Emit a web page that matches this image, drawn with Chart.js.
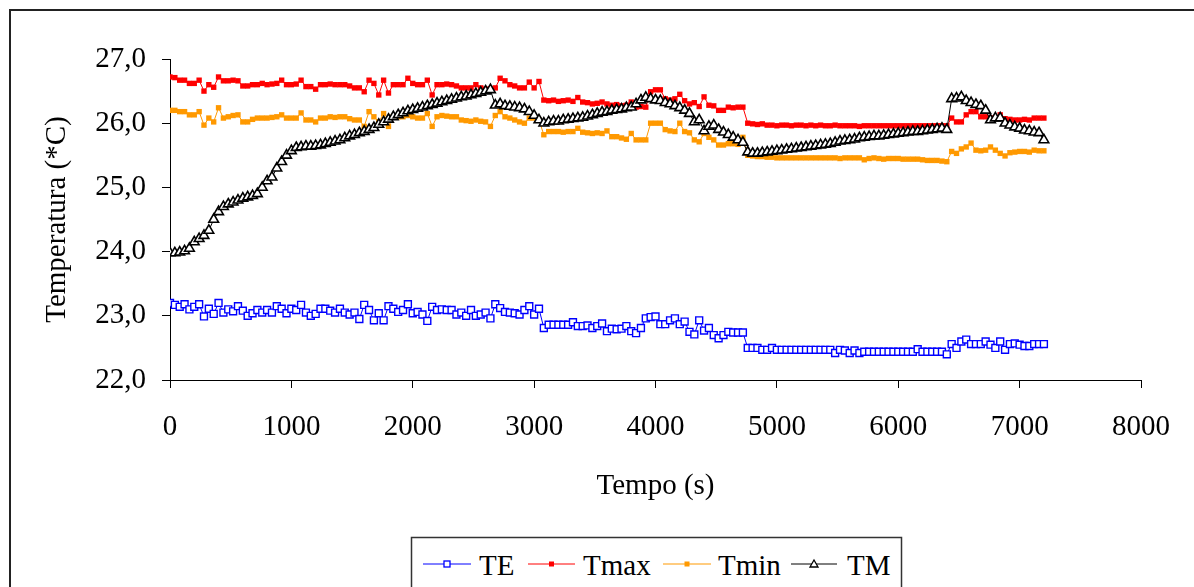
<!DOCTYPE html>
<html>
<head>
<meta charset="utf-8">
<script src="https://cdn.jsdelivr.net/npm/chart.js@4/dist/chart.umd.min.js"></script>
<style>
html,body{margin:0;padding:0;background:#fff;overflow:hidden;}
#wrap{position:relative;width:1194px;height:587px;overflow:hidden;}
#frame{position:absolute;left:9px;top:9px;width:1300px;height:700px;border-left:2px solid #222;border-top:2px solid #222;}
#c{position:absolute;left:0;top:0;}
#legend{position:absolute;left:0;top:0;}
</style>
</head>
<body>
<div id="wrap">
  <div id="frame"></div>
  <canvas id="c" width="1194" height="587"></canvas>
  <svg id="legend" width="1194" height="587" xmlns="http://www.w3.org/2000/svg"></svg>
</div>
<script>
// ---- axis ticks ----
const xTicks = [0, 1000, 2000, 3000, 4000, 5000, 6000, 7000, 8000];
const yTicks = [22, 23, 24, 25, 26, 27];
const yTickLabels = ['22,0', '23,0', '24,0', '25,0', '26,0', '27,0'];
const seriesNames = ['TE', 'Tmax', 'Tmin', 'TM'];
const sampleStep = 40; // seconds between readings (t = 0 .. 7200 s)

// ---- series values (one reading every 40 s, rows of 400 s) ----
const TE = [
  23.2,23.17,23.14,23.18,23.1,23.14,23.18,22.99,23.11,23.03,
  23.2,23.05,23.1,23.07,23.15,23.08,23.0,23.04,23.09,23.05,
  23.09,23.05,23.15,23.11,23.04,23.11,23.09,23.17,23.05,23.0,
  23.03,23.11,23.11,23.08,23.05,23.11,23.05,23.02,23.05,22.95,
  23.17,23.09,22.93,23.04,22.93,23.15,23.11,23.06,23.09,23.18,
  23.04,23.06,23.02,22.92,23.14,23.09,23.1,23.09,23.09,23.02,
  23.05,23.0,23.09,23.0,23.02,23.05,22.96,23.18,23.12,23.06,
  23.05,23.04,23.02,23.09,23.15,23.02,23.11,22.81,22.86,22.86,
  22.86,22.86,22.86,22.9,22.84,22.84,22.85,22.81,22.84,22.88,
  22.76,22.8,22.79,22.8,22.84,22.76,22.73,22.81,22.96,22.98,
  22.99,22.87,22.87,22.93,22.96,22.87,22.91,22.75,22.71,22.93,
  22.77,22.81,22.7,22.65,22.7,22.75,22.74,22.74,22.74,22.5,
  22.5,22.5,22.47,22.47,22.5,22.47,22.47,22.47,22.47,22.47,
  22.47,22.47,22.47,22.47,22.47,22.47,22.47,22.42,22.47,22.46,
  22.42,22.46,22.42,22.44,22.44,22.44,22.44,22.44,22.44,22.44,
  22.44,22.44,22.44,22.44,22.48,22.44,22.44,22.44,22.44,22.44,
  22.4,22.56,22.5,22.6,22.63,22.56,22.56,22.56,22.6,22.55,
  22.5,22.6,22.47,22.56,22.57,22.55,22.53,22.53,22.56,22.56,
  22.56
];
const Tmax = [
  26.72,26.71,26.67,26.67,26.62,26.62,26.67,26.5,26.6,26.56,
  26.72,26.66,26.66,26.67,26.66,26.58,26.58,26.6,26.6,26.62,
  26.6,26.61,26.62,26.67,26.6,26.6,26.61,26.67,26.57,26.57,
  26.53,26.6,26.6,26.61,26.6,26.6,26.6,26.58,26.55,26.55,
  26.49,26.67,26.62,26.44,26.67,26.47,26.6,26.6,26.6,26.7,
  26.62,26.6,26.6,26.67,26.44,26.6,26.6,26.61,26.6,26.58,
  26.55,26.55,26.55,26.6,26.55,26.53,26.53,26.55,26.7,26.66,
  26.6,26.58,26.55,26.55,26.64,26.55,26.65,26.36,26.35,26.36,
  26.34,26.35,26.36,26.34,26.4,26.33,26.32,26.3,26.31,26.33,
  26.3,26.28,26.29,26.27,26.28,26.33,26.25,26.26,26.25,26.49,
  26.52,26.52,26.38,26.36,26.38,26.45,26.35,26.3,26.32,26.26,
  26.41,26.28,26.27,26.2,26.2,26.25,26.24,26.25,26.25,26.0,
  25.99,25.98,25.99,25.97,25.97,25.96,25.97,25.97,25.96,25.97,
  25.97,25.96,25.97,25.96,25.97,25.96,25.96,25.97,25.96,25.96,
  25.96,25.96,25.95,25.96,25.96,25.96,25.96,25.96,25.96,25.96,
  25.96,25.96,25.96,25.96,25.96,25.96,25.96,25.96,25.96,25.96,
  25.96,26.08,26.02,26.02,26.13,26.18,26.18,26.1,26.1,26.08,
  26.08,26.13,26.07,26.06,26.05,26.05,26.06,26.05,26.08,26.08,
  26.08
];
const Tmin = [
  26.2,26.2,26.18,26.18,26.13,26.13,26.18,25.97,26.08,26.02,
  26.24,26.08,26.1,26.12,26.13,26.02,26.02,26.06,26.08,26.08,
  26.08,26.09,26.1,26.13,26.08,26.08,26.08,26.16,26.05,26.05,
  26.02,26.08,26.08,26.1,26.09,26.1,26.1,26.07,26.05,26.05,
  25.95,26.18,26.1,26.02,26.15,25.95,26.1,26.1,26.1,26.12,
  26.1,26.08,26.08,26.15,25.95,26.1,26.12,26.11,26.1,26.1,
  26.05,26.04,26.03,26.05,26.03,26.02,25.95,26.12,26.18,26.1,
  26.08,26.05,26.02,26.0,26.08,26.08,26.05,25.82,25.87,25.87,
  25.87,25.86,25.87,25.87,25.92,25.86,25.85,25.84,25.85,25.84,
  25.88,25.79,25.79,25.77,25.75,25.84,25.74,25.74,25.74,26.0,
  26.0,26.0,25.9,25.88,25.87,26.0,25.87,25.85,25.74,25.71,
  25.84,25.78,25.74,25.66,25.66,25.68,25.68,25.67,25.78,25.5,
  25.49,25.48,25.48,25.47,25.47,25.46,25.46,25.46,25.46,25.46,
  25.46,25.46,25.46,25.46,25.46,25.46,25.46,25.46,25.45,25.46,
  25.46,25.46,25.46,25.43,25.45,25.46,25.45,25.44,25.45,25.45,
  25.45,25.44,25.44,25.44,25.44,25.43,25.42,25.42,25.42,25.41,
  25.4,25.56,25.53,25.6,25.63,25.69,25.58,25.57,25.58,25.63,
  25.58,25.53,25.49,25.54,25.55,25.56,25.56,25.55,25.58,25.57,
  25.57
];
const TM = [
  23.98,23.98,23.99,24.01,24.05,24.15,24.2,24.25,24.33,24.5,
  24.62,24.7,24.74,24.77,24.8,24.83,24.85,24.87,24.9,25.0,
  25.1,25.16,25.3,25.4,25.5,25.57,25.62,25.63,25.64,25.64,
  25.65,25.66,25.68,25.7,25.72,25.74,25.77,25.8,25.82,25.85,
  25.87,25.9,25.93,25.98,26.02,26.06,26.1,26.13,26.16,26.19,
  26.21,26.23,26.25,26.27,26.29,26.31,26.33,26.35,26.37,26.39,
  26.41,26.42,26.44,26.46,26.48,26.5,26.52,26.28,26.3,26.27,
  26.26,26.25,26.24,26.22,26.18,26.12,26.05,26.0,26.02,26.03,
  26.03,26.05,26.06,26.07,26.08,26.09,26.11,26.13,26.15,26.17,
  26.18,26.2,26.21,26.22,26.24,26.25,26.3,26.36,26.4,26.38,
  26.36,26.35,26.32,26.3,26.27,26.24,26.2,26.15,26.02,26.05,
  25.88,25.95,25.97,25.9,25.86,25.82,25.78,25.74,25.7,25.55,
  25.53,25.53,25.54,25.55,25.56,25.57,25.58,25.59,25.6,25.61,
  25.62,25.63,25.64,25.65,25.66,25.67,25.68,25.7,25.72,25.73,
  25.74,25.75,25.77,25.78,25.79,25.8,25.8,25.81,25.82,25.83,
  25.84,25.85,25.86,25.87,25.87,25.88,25.89,25.9,25.91,25.92,
  25.9,26.38,26.39,26.41,26.35,26.32,26.29,26.27,26.2,26.05,
  26.08,26.08,26.0,25.97,25.94,25.92,25.89,25.88,25.86,25.85,
  25.74
];

[TE, Tmax, Tmin, TM].forEach((a, k) => {
  if (a.length !== 181) throw new Error(seriesNames[k] + ' has ' + a.length + ' values');
});

const pts = arr => arr.map((v, i) => ({ x: i * sampleStep, y: v }));

const FONT = 'Liberation Serif, Times New Roman, serif';
const FS = 29;
const font = { family: FONT, size: FS };

const chart = new Chart(document.getElementById('c'), {
  type: 'line',
  data: {
    datasets: [
      { label: seriesNames[3], data: pts(TM), borderColor: '#000', borderWidth: 1,
        pointStyle: 'triangle', pointRadius: 5.6, pointBackgroundColor: '#fff',
        pointBorderColor: '#000', pointBorderWidth: 1.6, order: 0 },
      { label: seriesNames[0], data: pts(TE), borderColor: '#0000ff', borderWidth: 1,
        pointStyle: 'rect', pointRadius: 4.9, pointBackgroundColor: '#fff',
        pointBorderColor: '#0000ff', pointBorderWidth: 1.4, order: 1 },
      { label: seriesNames[2], data: pts(Tmin), borderColor: '#ff9900', borderWidth: 1,
        pointStyle: 'rect', pointRadius: 3.8, pointBackgroundColor: '#ff9900',
        pointBorderColor: '#ff9900', pointBorderWidth: 0, order: 2 },
      { label: seriesNames[1], data: pts(Tmax), borderColor: '#ff0000', borderWidth: 1,
        pointStyle: 'rect', pointRadius: 3.8, pointBackgroundColor: '#ff0000',
        pointBorderColor: '#ff0000', pointBorderWidth: 0, order: 3 }
    ]
  },
  options: {
    responsive: false,
    animation: false,
    events: [],
    layout: { padding: { left: 0, right: 53, top: 59, bottom: 83 } },
    plugins: { legend: { display: false }, tooltip: { enabled: false } },
    elements: { line: { tension: 0 } },
    scales: {
      x: {
        type: 'linear', min: xTicks[0], max: xTicks[xTicks.length - 1],
        afterBuildTicks: s => { s.ticks = xTicks.map(v => ({ value: v })); },
        afterFit: s => { s.height = 124; },
        ticks: { font: font, color: '#000', padding: 22, maxRotation: 0, autoSkip: false,
                 callback: v => String(v) },
        grid: { drawOnChartArea: false, drawTicks: true, tickLength: 8, color: '#000', lineWidth: 1 },
        border: { display: true, color: '#000', width: 1 },
        title: { display: true, text: 'Tempo (s)', font: font, color: '#000', padding: { top: 0, bottom: 0 } }
      },
      y: {
        min: yTicks[0], max: yTicks[yTicks.length - 1],
        afterBuildTicks: s => { s.ticks = yTicks.map(v => ({ value: v })); },
        afterFit: s => { s.width = 170; },
        ticks: { font: font, color: '#000', padding: 16, autoSkip: false,
                 callback: v => yTickLabels[yTicks.indexOf(v)] },
        grid: { drawOnChartArea: false, drawTicks: true, tickLength: 8, color: '#000', lineWidth: 1 },
        border: { display: true, color: '#000', width: 1 },
        title: { display: true, text: 'Temperatura (*C)', font: font, color: '#000', padding: { top: 39.6, bottom: 0 } }
      }
    }
  }
});

// ---- legend (SVG, real text) ----
const svg = document.getElementById('legend');
const NS = 'http://www.w3.org/2000/svg';
function el(tag, attrs, text) {
  const e = document.createElementNS(NS, tag);
  for (const k in attrs) e.setAttribute(k, attrs[k]);
  if (text) e.textContent = text;
  svg.appendChild(e);
  return e;
}
el('rect', { x: 411.5, y: 537.5, width: 490, height: 80, fill: '#fff', stroke: '#333', 'stroke-width': 1.5 });
const legendItems = [
  { name: seriesNames[0], color: '#0000ff', marker: 'hsq', x0: 423, x1: 471, tx: 479 },
  { name: seriesNames[1], color: '#ff0000', marker: 'fsq', x0: 528, x1: 575, tx: 583 },
  { name: seriesNames[2], color: '#ff9900', marker: 'fsq', x0: 663, x1: 711, tx: 718 },
  { name: seriesNames[3], color: '#000000', marker: 'tri', x0: 791, x1: 837, tx: 847 }
];
const ly = 564;
legendItems.forEach(it => {
  el('line', { x1: it.x0, y1: ly, x2: it.x1, y2: ly, stroke: it.color, 'stroke-width': 1 });
  const cx = (it.x0 + it.x1) / 2;
  if (it.marker === 'hsq') el('rect', { x: cx - 3, y: ly - 3, width: 6, height: 6, fill: '#fff', stroke: it.color, 'stroke-width': 1.3 });
  if (it.marker === 'fsq') el('rect', { x: cx - 2.5, y: ly - 2.5, width: 5, height: 5, fill: it.color });
  if (it.marker === 'tri') el('polygon', { points: (cx) + ',' + (ly - 4) + ' ' + (cx + 4) + ',' + (ly + 3) + ' ' + (cx - 4) + ',' + (ly + 3), fill: '#fff', stroke: '#000', 'stroke-width': 1.3 });
  el('text', { x: it.tx, y: 575, 'font-family': FONT, 'font-size': FS, fill: '#000' }, it.name);
});
</script>
</body>
</html>
